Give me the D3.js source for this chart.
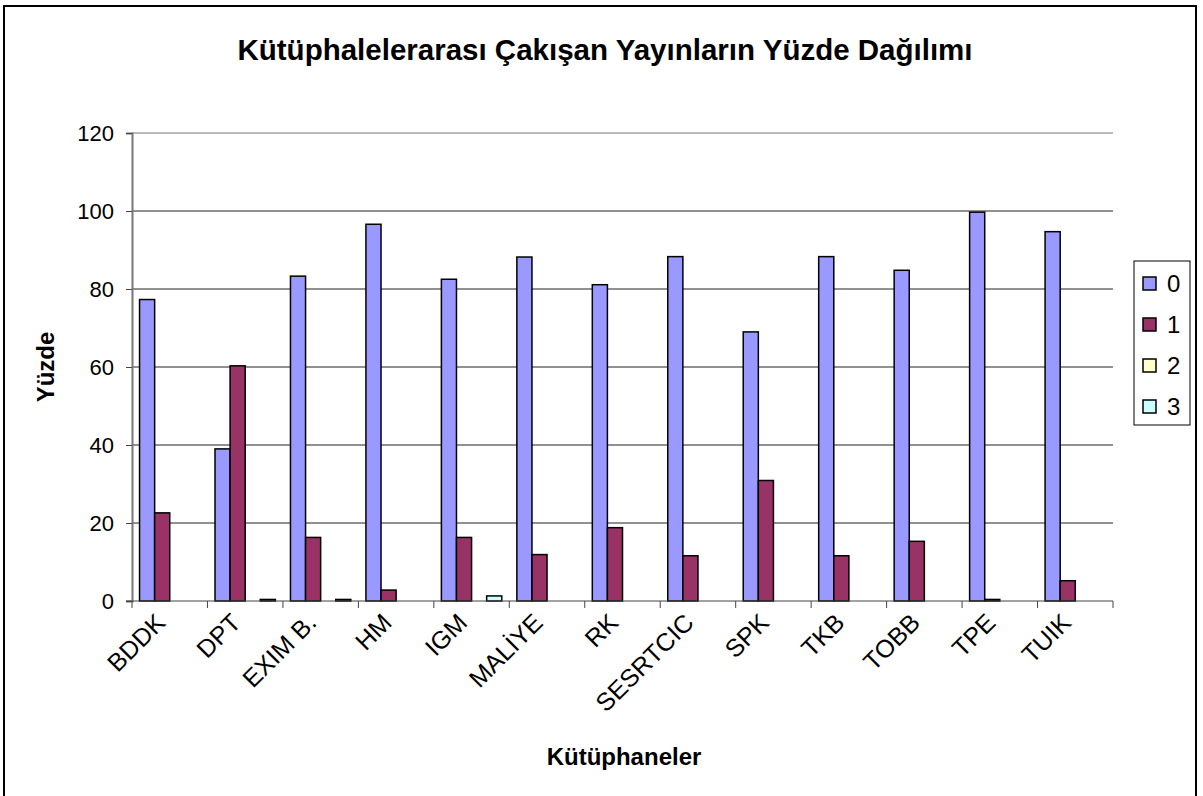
<!DOCTYPE html>
<html>
<head>
<meta charset="utf-8">
<script src="https://cdn.jsdelivr.net/npm/d3@7"></script>
<style>
  body { margin: 0; background: #fff; }
  text { font-family: "Liberation Sans", Arial, sans-serif; }
</style>
</head>
<body>
<svg id="chart" width="1203" height="796"></svg>
<script>
// categories (libraries) and series values
const categories = ['BDDK', 'DPT', 'EXIM B.', 'HM', 'IGM', 'MALİYE', 'RK', 'SESRTCIC', 'SPK', 'TKB', 'TOBB', 'TPE', 'TUIK'];
const seriesNames = ['0', '1', '2', '3'];
const series0 = [77.3, 39.0, 83.3, 96.6, 82.5, 88.2, 81.1, 88.3, 69.0, 88.3, 84.8, 99.7, 94.7];
const series1 = [22.6, 60.3, 16.3, 2.8, 16.3, 11.9, 18.8, 11.6, 30.9, 11.6, 15.3, 0.4, 5.2];
const series2 = [0, 0, 0, 0, 0, 0, 0, 0, 0, 0, 0, 0, 0];
const series3 = [0, 0.4, 0.4, 0, 1.3, 0, 0, 0, 0, 0, 0, 0, 0];
const yTicks = [0, 20, 40, 60, 80, 100, 120];
const colors = ['#9999FF', '#993366', '#FFFFCC', '#CCFFFF'];

const allSeries = [series0, series1, series2, series3];

const svg = d3.select('#chart');
const plot = { left: 132, right: 1113, top: 133, bottom: 601 };

// outer frame
svg.append('rect')
    .attr('x', 4).attr('y', 6)
    .attr('width', 1192).attr('height', 800)
    .attr('fill', 'none').attr('stroke', '#000').attr('stroke-width', 2);

let x0 = d3.scaleBand()
    .domain(categories)
    .range([plot.left, plot.right])
    .paddingInner(0).paddingOuter(0);

let x1 = d3.scaleBand()
    .domain(seriesNames)
    .range([0, x0.bandwidth()])
    .paddingInner(0).paddingOuter(0.5);

let y = d3.scaleLinear()
    .domain([0, 120])
    .range([plot.bottom, plot.top]);

// gridlines
svg.append('g')
    .selectAll('line')
    .data(yTicks.filter(t => t > 0))
    .enter().append('line')
    .attr('x1', plot.left).attr('x2', plot.right)
    .attr('y1', d => y(d)).attr('y2', d => y(d))
    .attr('stroke', d => d === 120 ? '#777' : '#222')
    .attr('stroke-width', 1);

// y axis
let yAxis = d3.axisLeft(y).tickValues(yTicks).tickSize(6).tickPadding(12);
let gy = svg.append('g')
    .attr('transform', `translate(${plot.left},0)`)
    .call(yAxis);
gy.select('.domain').attr('stroke', '#777').attr('stroke-width', 2);
gy.selectAll('.tick line').attr('stroke', '#444');
gy.selectAll('.tick text')
    .attr('font-size', 22).attr('fill', '#000')
    .attr('font-family', '"Liberation Sans", Arial, sans-serif');

// bars
let rows = categories.map((c, i) => ({ cat: c, vals: allSeries.map((s, k) => ({ k: k, v: s[i] })) }));
let groups = svg.append('g')
    .selectAll('g')
    .data(rows)
    .enter().append('g')
    .attr('transform', d => `translate(${x0(d.cat)},0)`);

groups.selectAll('rect')
    .data(d => d.vals.filter(v => v.v > 0))
    .enter().append('rect')
    .attr('x', d => x1(seriesNames[d.k]))
    .attr('y', d => y(d.v))
    .attr('width', x1.bandwidth())
    .attr('height', d => y(0) - y(d.v))
    .attr('fill', d => colors[d.k])
    .attr('stroke', '#000')
    .attr('stroke-width', 1.5);

// x axis
let xAxisLine = svg.append('g');
xAxisLine.append('line')
    .attr('x1', plot.left - 6).attr('x2', plot.right)
    .attr('y1', plot.bottom).attr('y2', plot.bottom)
    .attr('stroke', '#444').attr('stroke-width', 1);
xAxisLine.selectAll('line.tk')
    .data(categories.concat(['end']))
    .enter().append('line')
    .attr('class', 'tk')
    .attr('x1', (d, i) => plot.left + i * x0.step())
    .attr('x2', (d, i) => plot.left + i * x0.step())
    .attr('y1', plot.bottom).attr('y2', plot.bottom + 7)
    .attr('stroke', '#444');

svg.append('g')
    .selectAll('text')
    .data(categories)
    .enter().append('text')
    .attr('transform', d => `translate(${x0(d) + x0.bandwidth() / 2 - 9},${plot.bottom + 17}) rotate(-45)`)
    .attr('text-anchor', 'end')
    .attr('dy', '0.35em')
    .attr('font-size', 25)
    .text(d => d);

// titles
svg.append('text')
    .attr('x', 605).attr('y', 60)
    .attr('text-anchor', 'middle')
    .attr('font-size', 29.5).attr('font-weight', 'bold')
    .text('Kütüphalelerarası Çakışan Yayınların Yüzde Dağılımı');

svg.append('text')
    .attr('x', 624).attr('y', 765)
    .attr('text-anchor', 'middle')
    .attr('font-size', 24).attr('font-weight', 'bold')
    .text('Kütüphaneler');

svg.append('text')
    .attr('transform', 'translate(54,367) rotate(-90)')
    .attr('text-anchor', 'middle')
    .attr('font-size', 24).attr('font-weight', 'bold')
    .text('Yüzde');

// legend
let legend = svg.append('g').attr('transform', 'translate(1134,261)');
legend.append('rect')
    .attr('width', 56).attr('height', 164)
    .attr('fill', '#fff').attr('stroke', '#000').attr('stroke-width', 1);
let items = legend.selectAll('g')
    .data(seriesNames)
    .enter().append('g')
    .attr('transform', (d, i) => `translate(0,${22 + i * 41})`);
items.append('rect')
    .attr('x', 9).attr('y', -6)
    .attr('width', 13).attr('height', 13)
    .attr('fill', (d, i) => colors[i])
    .attr('stroke', '#000').attr('stroke-width', 1.5);
items.append('text')
    .attr('x', 33).attr('y', 0)
    .attr('dy', '0.36em')
    .attr('font-size', 24)
    .text(d => d);
</script>
</body>
</html>
